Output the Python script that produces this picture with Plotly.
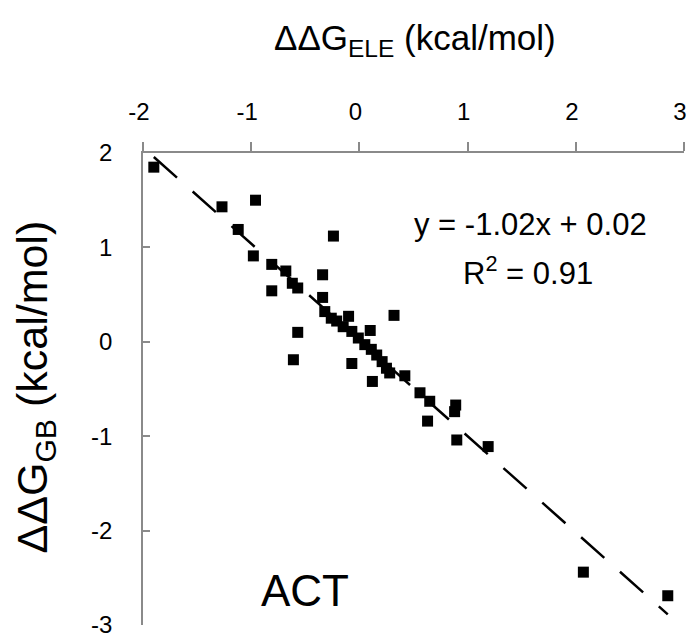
import plotly.graph_objects as go

# Data
dG_ele = [-1.90, -1.27, -0.96, -1.12, -0.98, -0.81, -0.81, -0.68, -0.62, -0.57,
          -0.57, -0.61, -0.24, -0.34, -0.34, -0.32, -0.26, -0.21, -0.10, -0.15,
          -0.07, -0.01, 0.05, 0.11, 0.16, 0.21, 0.25, 0.28, -0.07, 0.10,
          0.32, 0.12, 0.42, 0.56, 0.65, 0.63, 0.89, 0.88, 0.90, 1.19,
          2.07, 2.85]
dG_gb = [1.85, 1.43, 1.50, 1.19, 0.91, 0.82, 0.54, 0.75, 0.62, 0.57,
         0.10, -0.19, 1.12, 0.71, 0.47, 0.32, 0.25, 0.22, 0.27, 0.16,
         0.11, 0.04, -0.03, -0.08, -0.14, -0.21, -0.28, -0.33, -0.23, 0.12,
         0.28, -0.42, -0.36, -0.54, -0.63, -0.84, -0.67, -0.74, -1.04, -1.11,
         -2.44, -2.69]

slope = -1.02
intercept = 0.02
r_squared = 0.91

x_ticks = [-2, -1, 0, 1, 2, 3]
y_ticks = [-3, -2, -1, 0, 1, 2]

FONT = "Liberation Sans, Arial, sans-serif"
AXIS_GREY = "#8a8a8a"

x_fit = [min(dG_ele), max(dG_ele)]
y_fit = [slope * v + intercept for v in x_fit]

fig = go.Figure()
fig.add_trace(go.Scatter(
    x=x_fit, y=y_fit, mode="lines",
    line=dict(color="black", width=2.5, dash="31px,21px"),
    showlegend=False, hoverinfo="skip"))
fig.add_trace(go.Scatter(
    x=dG_ele, y=dG_gb, mode="markers",
    marker=dict(symbol="square", size=11, color="black", line=dict(width=0)),
    showlegend=False))

fig.update_layout(
    width=690, height=637,
    margin=dict(l=143, r=6, t=153, b=12, autoexpand=False),
    paper_bgcolor="white", plot_bgcolor="white",
    font=dict(family=FONT, color="black"),
    xaxis=dict(
        side="top", range=[-2, 3], tickvals=x_ticks,
        ticktext=[str(v) for v in x_ticks],
        showgrid=False, zeroline=False, automargin=False,
        showline=True, linecolor=AXIS_GREY, linewidth=1.5,
        ticks="outside", ticklen=9, tickwidth=1.5, tickcolor=AXIS_GREY,
        tickfont=dict(size=24, family=FONT, color="black"),
        ticklabelstandoff=13, ticklabelshift=-4, ticklabeloverflow="allow",
    ),
    yaxis=dict(
        range=[-3, 2], tickvals=y_ticks,
        ticktext=[str(v) for v in y_ticks],
        showgrid=False, zeroline=False, automargin=False,
        showline=True, linecolor=AXIS_GREY, linewidth=1.5,
        ticks="inside", ticklen=7, tickwidth=1.5, tickcolor=AXIS_GREY,
        tickfont=dict(size=24, family=FONT, color="black"),
        ticklabelstandoff=24, ticklabeloverflow="allow",
    ),
    annotations=[
        dict(text="ΔΔG<sub>ELE</sub> (kcal/mol)", xref="paper", yref="paper",
             x=0.503, y=1.239, showarrow=False, xanchor="center", yanchor="middle",
             font=dict(size=35, family=FONT, color="black")),
        dict(text="ΔΔG<sub>GB</sub> (kcal/mol)", xref="paper", yref="paper",
             x=-0.2, y=0.505, showarrow=False, textangle=-90,
             xanchor="center", yanchor="middle",
             font=dict(size=43, family=FONT, color="black")),
        dict(text="y = -1.02x + 0.02", xref="x", yref="y", x=1.577, y=1.24,
             showarrow=False, xanchor="center", yanchor="middle",
             font=dict(size=31, family=FONT, color="black")),
        dict(text="R<sup>2</sup> = 0.91", xref="x", yref="y", x=1.555, y=0.746,
             showarrow=False, xanchor="center", yanchor="middle",
             font=dict(size=31, family=FONT, color="black")),
        dict(text="ACT", xref="x", yref="y", x=-0.504, y=-2.63,
             showarrow=False, xanchor="center", yanchor="middle",
             font=dict(size=44, family=FONT, color="black")),
    ],
)

fig.write_html(
    "out.html",
    config={"displayModeBar": False},
    post_script="document.body.style.margin='0';document.body.style.overflow='hidden';",
)
